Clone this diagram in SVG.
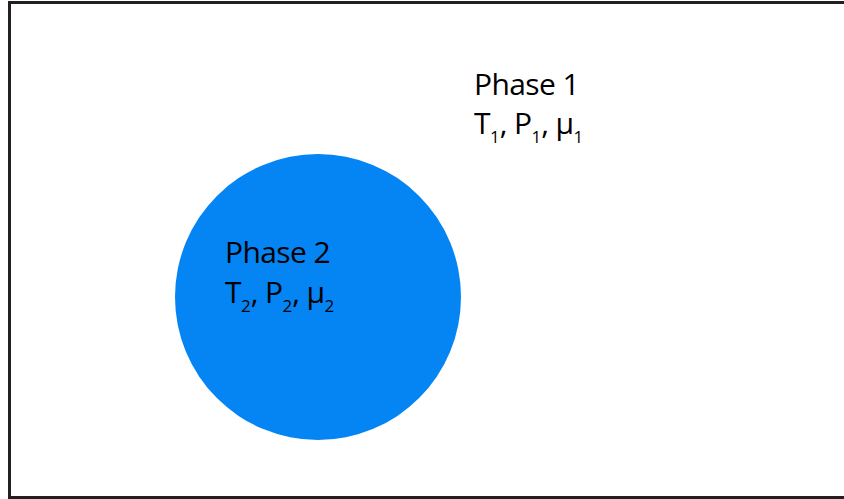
<svg xmlns="http://www.w3.org/2000/svg" width="844" height="499" viewBox="0 0 844 499">
<style>
.lbl{font-family:"Open Sans","Noto Sans",sans-serif;font-size:30px;letter-spacing:-0.6px;fill:#000}
.sub{font-size:17px;letter-spacing:0}
</style>
<rect x="0" y="0" width="844" height="499" fill="#fff"/>
<g id="frame">
<rect x="9.5" y="2.5" width="850" height="495" fill="none" stroke="#231f20" stroke-width="3"/>
</g>
<g id="phase1">
<text class="lbl" x="474" y="95">Phase 1</text>
<text class="lbl" x="474" y="134">T<tspan class="sub" dy="9">1</tspan><tspan dy="-9">, P</tspan><tspan class="sub" dy="9">1</tspan><tspan dy="-9">, μ</tspan><tspan class="sub" dy="9">1</tspan></text>
</g>
<g id="phase2">
<circle cx="318" cy="297" r="143" fill="#0584f4"/>
<text class="lbl" x="225" y="263">Phase 2</text>
<text class="lbl" x="225" y="303">T<tspan class="sub" dy="9">2</tspan><tspan dy="-9">, P</tspan><tspan class="sub" dy="9">2</tspan><tspan dy="-9">, μ</tspan><tspan class="sub" dy="9">2</tspan></text>
</g>
<g id="connectors"></g>
</svg>
